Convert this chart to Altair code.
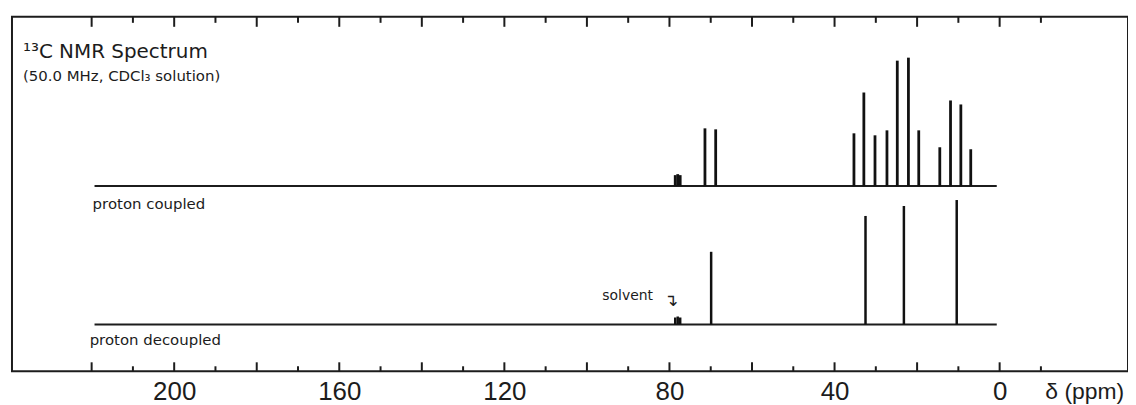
import altair as alt
import pandas as pd

# ---------------- data ----------------
coupled_ppm = [71.4, 68.8, 35.3, 32.9, 30.2, 27.3, 24.8, 22.1, 19.6, 14.5, 11.9, 9.4, 7.0]
coupled_int = [58, 57, 53, 94, 51, 56, 126, 129, 56, 39, 86, 82, 37]

decoupled_ppm = [69.9, 32.5, 23.2, 10.4]
decoupled_int = [73, 109, 119, 125]

solvent_ppm = [78.6, 78.0, 77.4]
solvent_coupled_int = [11, 12, 11]
solvent_decoupled_int = [7, 8, 7]

baseline_start_ppm = [219.3]
baseline_end_ppm = [0.7]

major_ticks = [220, 200, 180, 160, 140, 120, 100, 80, 60, 40, 20, 0]
minor_ticks = [210, 190, 170, 150, 130, 110, 90, 70, 50, 30, 10, -10]
tick_labels = [200, 160, 120, 80, 40, 0]

# ---------------- layout / style ----------------
W, H = 1121, 356
X_MIN, X_MAX = -31.1, 239.3
TOP_BASE, BOTTOM_BASE = 186, 47
MAJ_BOT, MIN_BOT = 9, 5
MAJ_TOP, MIN_TOP = 10, 6
INK = "#1c1c1c"
SANS = "DejaVu Sans"
HELV = "Liberation Sans"

xscale = alt.Scale(domain=[X_MIN, X_MAX], reverse=True, nice=False, zero=False)
yscale = alt.Scale(domain=[0, H], nice=False, zero=False)
xaxis = alt.Axis(
    values=tick_labels, format="d", grid=False, ticks=False, tickSize=0, domain=False,
    labelFont=HELV, labelFontSize=26, labelColor=INK, labelPadding=7, labelFlush=False,
    title="δ (ppm)", titleFont=HELV, titleFontSize=23, titleFontWeight="normal",
    titleColor=INK, titleX=1077, titleY=20, titleAlign="center", titleBaseline="middle",
    titleAngle=0,
)


def xenc(field):
    return alt.X(field, type="quantitative", scale=xscale, axis=xaxis)


def yenc(field):
    return alt.Y(field, type="quantitative", scale=yscale, axis=None)


def stick_frame(ppms, ints, base):
    return pd.DataFrame({
        "ppm": ppms,
        "y0": [base] * len(ppms),
        "y1": [base + v for v in ints],
    })


coupled_df = stick_frame(coupled_ppm + solvent_ppm, coupled_int + solvent_coupled_int, TOP_BASE)
decoupled_df = stick_frame(decoupled_ppm + solvent_ppm, decoupled_int + solvent_decoupled_int, BOTTOM_BASE)

baseline_df = pd.DataFrame({
    "xa": baseline_start_ppm * 2,
    "xb": baseline_end_ppm * 2,
    "y": [TOP_BASE, BOTTOM_BASE],
})

tick_rows = []
for t in major_ticks:
    tick_rows.append({"ppm": t, "y0": 0, "y1": MAJ_BOT})
    tick_rows.append({"ppm": t, "y0": H - MAJ_TOP, "y1": H})
for t in minor_ticks:
    tick_rows.append({"ppm": t, "y0": 0, "y1": MIN_BOT})
    tick_rows.append({"ppm": t, "y0": H - MIN_TOP, "y1": H})
ticks_df = pd.DataFrame(tick_rows)

ticks = alt.Chart(ticks_df).mark_rule(color=INK, strokeWidth=2).encode(
    x=xenc("ppm"), y=yenc("y0"), y2="y1"
)

baselines = alt.Chart(baseline_df).mark_rule(color=INK, strokeWidth=2).encode(
    x=xenc("xa"), x2="xb", y=yenc("y")
)

coupled = alt.Chart(coupled_df).mark_rule(color="#111", strokeWidth=2.8).encode(
    x=xenc("ppm"), y=yenc("y0"), y2="y1"
)

decoupled = alt.Chart(decoupled_df).mark_rule(color="#111", strokeWidth=2.5).encode(
    x=xenc("ppm"), y=yenc("y0"), y2="y1"
)


def label(text, px, py, size, font=SANS, align="left", weight="normal"):
    return alt.Chart(pd.DataFrame({"t": [text]})).mark_text(
        align=align, baseline="alphabetic", font=font, fontSize=size,
        fontWeight=weight, color=INK,
    ).encode(text="t:N", x=alt.value(px), y=alt.value(py))


texts = [
    label("¹³C NMR Spectrum", 11, 41, 20),
    label("(50.0 MHz, CDCl₃ solution)", 11, 64, 15),
    label("proton coupled", 81, 193, 15),
    label("proton decoupled", 78, 330, 15),
    label("solvent", 593, 284, 14),
    label("↴", 655, 290, 17),
]

chart = alt.layer(ticks, baselines, coupled, decoupled, *texts).properties(
    width=W, height=H,
    padding={"left": 4, "top": 7, "right": 0, "bottom": 0},
).configure_view(stroke=INK, strokeWidth=2)

chart.save("out.html", embed_options={"renderer": "svg", "actions": False})
